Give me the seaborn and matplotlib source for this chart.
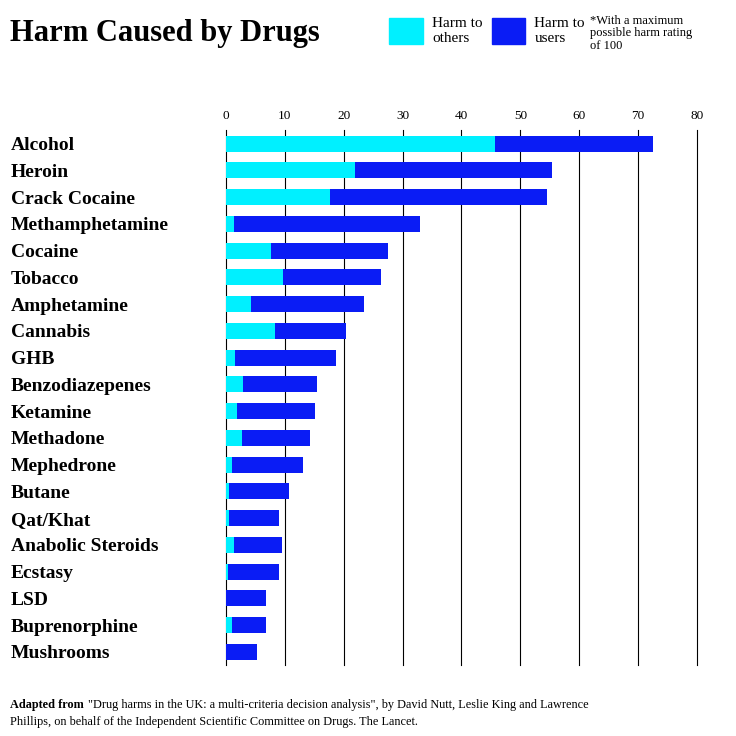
import matplotlib
matplotlib.use("Agg")
import matplotlib.pyplot as plt
import seaborn as sns
import pandas as pd
from matplotlib.patches import Patch

drugs = ["Alcohol", "Heroin", "Crack Cocaine", "Methamphetamine", "Cocaine", "Tobacco",
         "Amphetamine", "Cannabis", "GHB", "Benzodiazepenes", "Ketamine", "Methadone",
         "Mephedrone", "Butane", "Qat/Khat", "Anabolic Steroids", "Ecstasy", "LSD",
         "Buprenorphine", "Mushrooms"]
harm_others = [45.7, 21.9, 17.7, 1.4, 7.6, 9.7, 4.2, 8.3, 1.5, 2.9, 1.9, 2.7,
               1.0, 0.5, 0.5, 1.4, 0.3, 0.0, 1.0, 0.0]
harm_total = [72.5, 55.4, 54.5, 32.9, 27.5, 26.3, 23.4, 20.4, 18.7, 15.5, 15.1, 14.3,
              13.1, 10.7, 9.0, 9.5, 9.0, 6.8, 6.8, 5.3]

df = pd.DataFrame({"drug": drugs, "others": harm_others, "total": harm_total})

plt.rcParams["font.family"] = ["Liberation Serif", "DejaVu Serif"]
fig = plt.figure(figsize=(7.36, 7.36), dpi=100)
ax = fig.add_axes([0.307, 0.096, 0.64, 0.727])

cyan = "#00f0ff"
blue = "#0a1cf5"
sns.barplot(data=df, x="total", y="drug", color=blue, width=0.6, saturation=1, ax=ax)
sns.barplot(data=df, x="others", y="drug", color=cyan, width=0.6, saturation=1, ax=ax)

ax.set_xlim(0, 80)
ax.set_xticks(range(0, 81, 10))
ax.xaxis.tick_top()
ax.tick_params(axis="x", length=0, labelsize=9.5, pad=6)
ax.grid(axis="x", color="black", linewidth=0.8)
for gl in ax.get_xgridlines():
    gl.set_clip_on(False)
ax.set_axisbelow(True)
for s in ax.spines.values():
    s.set_visible(False)
ax.set_xlabel("")
ax.set_ylabel("")
ax.tick_params(axis="y", length=0, pad=155)
for lab in ax.get_yticklabels():
    lab.set_ha("left")
    lab.set_fontweight("bold")
    lab.set_fontsize(14)

fig.text(0.013, 0.955, "Harm Caused by Drugs", fontsize=22, fontweight="bold", va="center")
fig.legend(handles=[Patch(color=cyan), Patch(color=blue)],
           labels=["Harm to\nothers", "Harm to\nusers"], ncol=2, frameon=False,
           loc="center left", bbox_to_anchor=(0.51, 0.958), fontsize=11,
           handlelength=2.2, handleheight=2.2, columnspacing=0.6, handletextpad=0.6)
fig.text(0.802, 0.955, "*With a maximum\npossible harm rating\nof 100", fontsize=9,
         va="center", linespacing=1.05)
fig.text(0.013, 0.042, "Adapted from", fontsize=8.8, fontweight="bold", va="center")
fig.text(0.013 + 78 / 736, 0.042,
         "\"Drug harms in the UK: a multi-criteria decision analysis\", by David Nutt, Leslie King and Lawrence",
         fontsize=8.8, va="center")
fig.text(0.013, 0.019, "Phillips, on behalf of the Independent Scientific Committee on Drugs. The Lancet.",
         fontsize=8.8, va="center")

fig.savefig("out.png", dpi=100)
